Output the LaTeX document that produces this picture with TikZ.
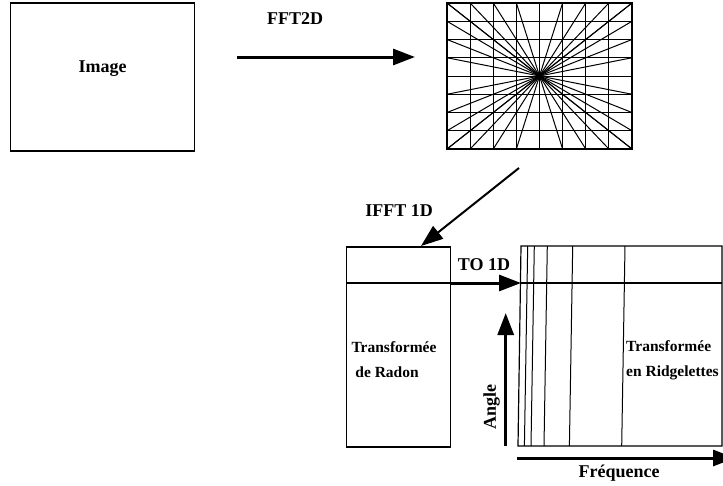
\documentclass[tikz,border=0pt]{standalone}
\usepackage{fontspec}
\setmainfont{Liberation Serif}
\usetikzlibrary{arrows.meta}
\tikzset{
  box/.style={draw, line width=1.2pt, inner sep=0pt},
  lbl/.style={font=\bfseries\fontsize{18}{20}\selectfont, inner sep=0pt},
  txt/.style={font=\bfseries\fontsize{15.5}{25}\selectfont, inner sep=0pt, align=left},
  arr/.style={line width=3pt, -{Triangle[length=22pt,width=16pt]}}
}
\begin{document}
\begin{tikzpicture}[x=1pt,y=-1pt]
\useasboundingbox (0,0) rectangle (723,485);
% image
\node[box, minimum width=184pt, minimum height=148pt] (image) at (102.5,77) {};
\node[lbl] (imagetxt) at (102.5,69) {Image};
% spectre (grille polaire)
\node[box, minimum width=185pt, minimum height=146pt] (spec) at (539.5,76) {};
\coordinate (c) at (539.5,76);
\foreach \i in {0,...,8} {
  \draw[line width=1pt] (447+23.125*\i,3) -- (447+23.125*\i,149);
  \draw[line width=1pt] (447,3+18.25*\i) -- (632,3+18.25*\i);
  \draw[line width=1pt] (c) -- (447+23.125*\i,3);
  \draw[line width=1pt] (c) -- (447+23.125*\i,149);
  \draw[line width=1pt] (c) -- (447,3+18.25*\i);
  \draw[line width=1pt] (c) -- (632,3+18.25*\i);
}
% FFT2D
\coordinate (fa) at (237,57);
\coordinate (fb) at (415,57);
\draw[arr] (fa) -- (fb);
\node[lbl] (fft) at (295,19) {FFT2D};
% IFFT 1D
\coordinate (ia) at (519,168);
\coordinate (ib) at (421,246);
\draw[arr, line width=2pt] (ia) -- (ib);
\node[lbl] (ifft) at (399,211) {IFFT 1D};
% radon
\node[box, minimum width=104pt, minimum height=200pt] (radon) at (398.5,347) {};
\draw[line width=1.2pt] (radon.west |- 0,283) coordinate (rl) -- (radon.east |- 0,283) coordinate (rr);
\node[txt] (radontxt) at (394,360) {Transformée\\\ de Radon};
% TO 1D
\coordinate (ta) at (521,283);
\draw[arr] (rr) -- (ta);
\node[lbl] (to) at (484,265) {TO 1D};
% ridgelettes
\draw[line width=1.2pt] (521,246) coordinate (ra) -- (722,246) -- (722,446) -- (518,446) -- cycle;
\draw[line width=1.2pt] (521,283) -- (722,283);
\foreach \x in {527.7,534.3,547.3,572.7,625} {
  \draw[line width=1pt] (\x,246) -- (\x-3.3,446);
}
\node[txt] (ridgetxt) at (626,360) [anchor=west] {Transformée\\en Ridgelettes};
% axes
\coordinate (aa) at (505.7,446);
\coordinate (ab) at (505.7,313);
\draw[arr] (aa) -- (ab);
\node[lbl, rotate=90] (angle) at (491.5,407) {Angle};
\coordinate (qa) at (517,458);
\coordinate (qb) at (735,458);
\draw[arr] (qa) -- (qb);
\node[lbl] (freq) at (619,473) {Fréquence};
\end{tikzpicture}
\end{document}
